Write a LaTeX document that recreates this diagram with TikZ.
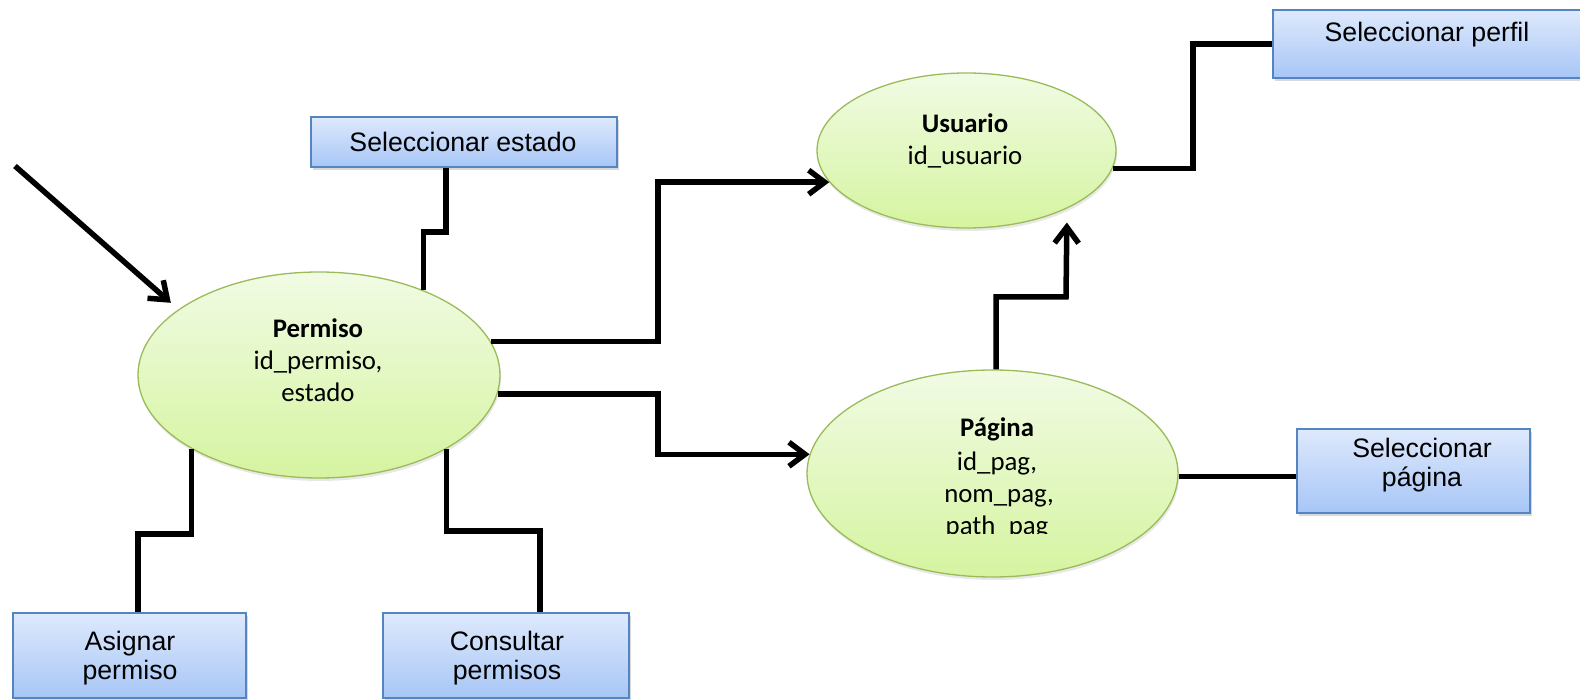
\documentclass[tikz,border=0pt]{standalone}
\usepackage{fontspec}
\setmainfont{Liberation Sans}
\newfontfamily\entfont{Carlito}
\usetikzlibrary{arrows.meta,shapes.geometric,shadows}

\definecolor{enttop}{HTML}{F1FBE4}
\definecolor{entbot}{HTML}{D5F4A0}
\definecolor{entline}{HTML}{9BBB59}
\definecolor{boxtop}{HTML}{DEE9FC}
\definecolor{boxbot}{HTML}{A7C6F6}
\definecolor{boxline}{HTML}{5585C0}

\begin{document}
\begin{tikzpicture}[x=1pt,y=-1pt,
  ent/.style={ellipse, draw=entline, line width=1.3pt, top color=enttop,
    bottom color=entbot, inner sep=0pt,
    drop shadow={shadow xshift=1pt, shadow yshift=-3pt, opacity=.18}},
  opbox/.style={rectangle, draw=boxline, line width=1.3pt, top color=boxtop,
    bottom color=boxbot, inner sep=0pt,
    drop shadow={shadow xshift=2pt, shadow yshift=-3pt, opacity=.3}},
  conn/.style={line width=5.5pt, black},
  arr/.style={conn, -{Straight Barb[length=16pt,width=24pt]}},
  etxt/.style={font=\entfont\fontsize{26.8}{32}\selectfont, anchor=base, inner sep=0pt},
  btxt/.style={font=\fontsize{26.7}{29}\selectfont, anchor=base, inner sep=0pt}]

\useasboundingbox (0,0) rectangle (1580,700);

% entities
\node[ent, minimum width=362pt, minimum height=206pt] (permiso) at (319,375) {};
\node[ent, minimum width=299pt, minimum height=155pt] (usuario) at (966.5,150.5) {};
\node[ent, minimum width=371pt, minimum height=207pt] (pagina) at (992.5,473.5) {};

% operation boxes
\node[opbox, minimum width=306pt, minimum height=50pt] (estado) at (464,142) {};
\node[opbox, minimum width=310pt, minimum height=68pt] (perfil) at (1428,44) {};
\node[opbox, minimum width=233pt, minimum height=84pt] (spag) at (1413.5,471) {};
\node[opbox, minimum width=233pt, minimum height=85pt] (asig) at (129.5,655.5) {};
\node[opbox, minimum width=246pt, minimum height=85pt] (cons) at (506,655.5) {};

% entity texts
\node[etxt] at (318,338) {\textbf{Permiso}};
\node[etxt] at (318,370) {id\_permiso,};
\node[etxt] at (318,402) {estado};

\node[etxt] at (965,133) {\textbf{Usuario}};
\node[etxt] at (965,165) {id\_usuario};

\node[etxt] at (997,437) {\textbf{Página}};
\node[etxt] at (997,470) {id\_pag,};
\node[etxt] at (999,502) {nom\_pag,};
\begin{scope}
  \clip (850,505) rectangle (1150,533);
  \node[etxt] at (997,534.5) {path\_pag};
\end{scope}

% box texts
\node[btxt] at (463,152) {Seleccionar estado};
\node[btxt] at (1427,42) {Seleccionar perfil};
\node[btxt] at (1422,457) {Seleccionar};
\node[btxt] at (1422,486) {página};
\node[btxt] at (130,650) {Asignar};
\node[btxt] at (130,679) {permiso};
\node[btxt] at (507,650) {Consultar};
\node[btxt] at (507,679) {permisos};

% connectors
\coordinate (src) at (15,166);
\draw[arr, shorten >=10pt] (src) -- (permiso.155.7);

\draw[conn] (permiso.39.4) |- (446,232) -- (estado.south -| 446,0);
\draw[arr] (permiso.11.6) -| (658,260) |- (usuario.193.5);
\draw[arr] (permiso.-6.4) -| (658,420) |- (pagina.174.2);
\draw[arr, shorten >=14pt] (pagina.88) |- (1066,297) -- (usuario.-30.15);
\draw[conn] (usuario.-7.26) -| (1193,100) |- (perfil.west);
\draw[conn] (pagina.-1.6) -- (pagina.-1.6 -| spag.west);
\draw[conn] (permiso.210.8) |- (138,534) -- (asig.north -| 138,0);
\draw[conn] (permiso.-30.4) |- (540,531) -- (cons.north -| 540,0);
\end{tikzpicture}
\end{document}
